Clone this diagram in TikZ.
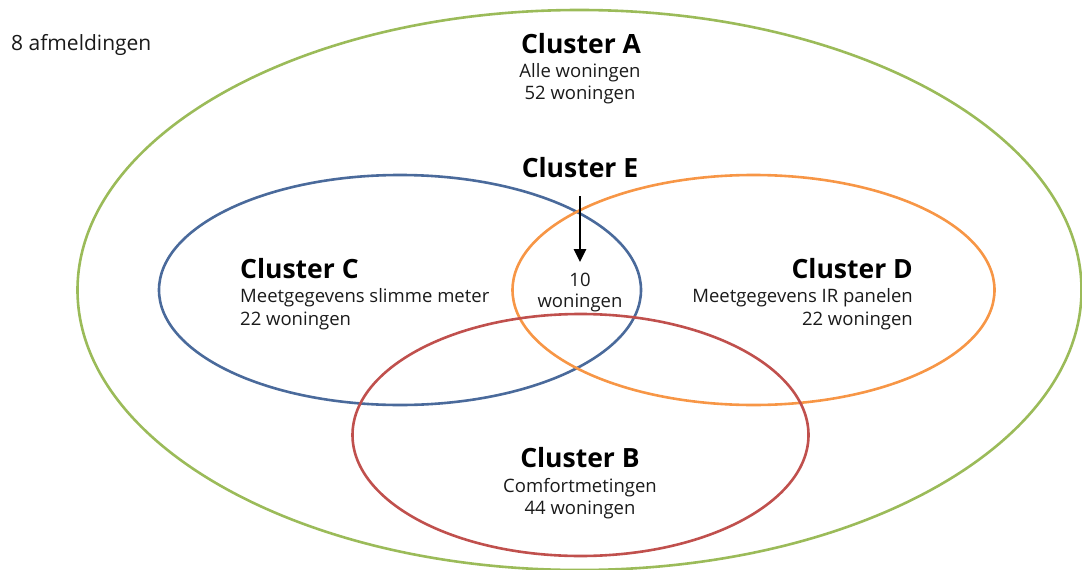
\documentclass[tikz,border=0pt]{standalone}
\usepackage{fontspec}
\setmainfont{Open Sans}
\usetikzlibrary{arrows.meta}
\definecolor{cgreen}{HTML}{9BBB59}
\definecolor{cblue}{HTML}{4A6A9B}
\definecolor{corange}{HTML}{F79646}
\definecolor{cred}{HTML}{C0504D}
\definecolor{ctext}{HTML}{1A1A1A}
\begin{document}
\begin{tikzpicture}[x=1pt,y=-1pt,
  title/.style={font=\fontsize{26.5}{30}\selectfont\bfseries, text=black, inner sep=0pt, anchor=base},
  body/.style={font=\fontsize{18.5}{21}\selectfont, text=ctext, inner sep=0pt, anchor=base},
  ring/.style={line width=2.6pt}]
\useasboundingbox (0,0) rectangle (1082,570);
% ellipses
\draw[ring, cgreen] (579.5,290) ellipse [x radius=502pt, y radius=280pt];
\draw[ring, cblue] (400,290) ellipse [x radius=241pt, y radius=115pt];
\draw[ring, corange] (753.5,290) ellipse [x radius=241pt, y radius=115pt];
\draw[ring, cred] (580.5,435) ellipse [x radius=228pt, y radius=121pt];
% texts
\node[body, anchor=base west, font=\fontsize{21}{24}\selectfont] (afm) at (11,50) {8 afmeldingen};
\node[title] (A) at (581,53) {Cluster A};
\node[body] (A1) at (580,77) {Alle woningen};
\node[body] (A2) at (580,99) {52 woningen};
\node[title] (E) at (580,177) {Cluster E};
\node[body] (E1) at (580,286) {10};
\node[body] (E2) at (580,307) {woningen};
\node[title, anchor=base west] (C) at (240,278) {Cluster C};
\node[body, anchor=base west] (C1) at (240,302) {Meetgegevens slimme meter};
\node[body, anchor=base west] (C2) at (240,325) {22 woningen};
\node[title, anchor=base east] (D) at (913,278) {Cluster D};
\node[body, anchor=base east] (D1) at (913,302) {Meetgegevens IR panelen};
\node[body, anchor=base east] (D2) at (913,325) {22 woningen};
\node[title] (B) at (580,467) {Cluster B};
\node[body] (B1) at (580,492) {Comfortmetingen};
\node[body] (B2) at (580,514) {44 woningen};
% arrow
\coordinate (as) at (580,196);
\coordinate (ae) at (580,262);
\draw[line width=2.8pt, -{Triangle[length=13pt,width=12pt]}] (as) -- (ae);
\end{tikzpicture}
\end{document}
